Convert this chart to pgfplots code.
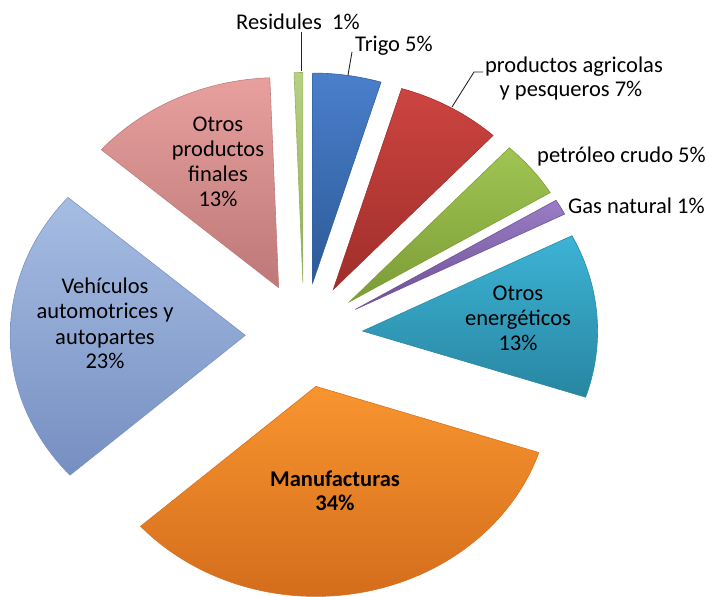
\documentclass[border=0pt]{standalone}
\usepackage{pgfplots}
\pgfplotsset{compat=1.18}
\usepackage{fontspec}
\setmainfont{Carlito}
% slice colours: T = top, B = bottom, D = edge
\definecolor{cTrigoT}{HTML}{4A7FCB}\definecolor{cTrigoB}{HTML}{2C5A98}\definecolor{cTrigoD}{HTML}{33609E}
\definecolor{cProdT}{HTML}{CC4440}\definecolor{cProdB}{HTML}{A02E2B}\definecolor{cProdD}{HTML}{A4302D}
\definecolor{cPetrT}{HTML}{A0C553}\definecolor{cPetrB}{HTML}{7C9C36}\definecolor{cPetrD}{HTML}{7F9F3A}
\definecolor{cGasT}{HTML}{9A7DC4}\definecolor{cGasB}{HTML}{6E4F96}\definecolor{cGasD}{HTML}{71539A}
\definecolor{cOET}{HTML}{3DB3D6}\definecolor{cOEB}{HTML}{2886A1}\definecolor{cOED}{HTML}{2B8AA6}
\definecolor{cManufT}{HTML}{F8952F}\definecolor{cManufB}{HTML}{D46D1C}\definecolor{cManufD}{HTML}{D77222}
\definecolor{cVehT}{HTML}{A6BDE3}\definecolor{cVehB}{HTML}{768FC1}\definecolor{cVehD}{HTML}{7C94C4}
\definecolor{cOPFT}{HTML}{E7A09E}\definecolor{cOPFB}{HTML}{BD7877}\definecolor{cOPFD}{HTML}{C07C7B}
\definecolor{cResT}{HTML}{B8D083}\definecolor{cResB}{HTML}{93AD5B}\definecolor{cResD}{HTML}{96B05F}
\begin{document}
\begin{tikzpicture}
\path[use as bounding box] (0,0) rectangle (709bp,597bp);
\begin{axis}[at={(0,0)}, anchor=south west, scale only axis,
  x=235bp, y=210bp,
  xmin=-1.2936, xmax=1.7234, ymin=-1.2476, ymax=1.5952,
  hide axis, clip=false]
\gdef\cum{90}
% shares (percent), clockwise from 12 o'clock
\foreach \v/\c in {4.7/Trigo,7.2/Prod,4.4/Petr,1.2/Gas,12.6/OE,33.3/Manuf,23.0/Veh,13.0/OPF,0.6/Res}{
  \pgfmathsetmacro\sA{\cum}
  \pgfmathsetmacro\eA{\cum-3.6*\v}
  \pgfmathsetmacro\mA{(\sA+\eA)/2}
  \pgfmathsetmacro\oxA{0.25*cos(\mA)}
  \pgfmathsetmacro\oyA{0.25*sin(\mA)}
  \edef\temp{\noexpand\addplot[draw=c\c D, line width=0.6bp, top color=c\c T, bottom color=c\c B, domain=\eA:\sA, samples=90] ({\oxA+cos(x)},{\oyA+sin(x)}) -- (axis cs:\oxA,\oyA) -- cycle;}
  \temp
  \xdef\cum{\eA}
}
\end{axis}
\begin{scope}[x=1bp,y=1bp, every node/.style={inner sep=0pt, font=\fontsize{22.5bp}{26bp}\selectfont, text=black}]
% leader lines
\draw[line width=0.9bp, black!85] (301,565) -- (301,526);
\draw[line width=0.9bp, black!85] (352,545) -- (348,522);
\draw[line width=0.9bp, black!85] (483,525) -- (474,525) -- (452,490);
% outside labels
\node[anchor=base west] at (236,567) {Residules~~1\%};
\node[anchor=base west] at (355,545) {Trigo 5\%};
\node[anchor=base] at (574,524) {productos agricolas};
\node[anchor=base] at (571,500) {y pesqueros 7\%};
\node[anchor=base west] at (537,434) {petróleo crudo 5\%};
\node[anchor=base west] at (568,384) {Gas natural 1\%};
% inside labels
\node[anchor=base] at (518,297) {Otros};
\node[anchor=base] at (518,272) {energéticos};
\node[anchor=base] at (518,247) {13\%};
\node[anchor=base] at (335,111) {\bfseries Manufacturas};
\node[anchor=base] at (335,87) {\bfseries 34\%};
\node[anchor=base] at (105,304) {Vehículos};
\node[anchor=base] at (105,279) {automotrices y};
\node[anchor=base] at (105,253) {autopartes};
\node[anchor=base] at (105,229) {23\%};
\node[anchor=base] at (218,465) {Otros};
\node[anchor=base] at (218,440) {productos};
\node[anchor=base] at (218,415) {finales};
\node[anchor=base] at (218,390) {13\%};
\end{scope}
\end{tikzpicture}
\end{document}
